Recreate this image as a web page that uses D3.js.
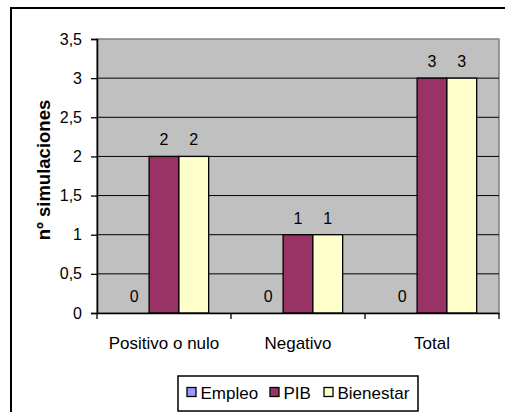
<!DOCTYPE html>
<html><head><meta charset="utf-8">
<script src="https://cdn.jsdelivr.net/npm/d3@7"></script>
<style>html,body{margin:0;padding:0;background:#fff;}svg{display:block;font-family:"Liberation Sans",Arial,sans-serif;}</style>
</head><body>
<svg id="c" width="505" height="412"></svg>
<script>
const categories = ["Positivo o nulo", "Negativo", "Total"];
const seriesNames = ["Empleo", "PIB", "Bienestar"];
const empleo = [0, 0, 0];
const pib = [2, 1, 3];
const bienestar = [2, 1, 3];
const yTicks = [0, 0.5, 1, 1.5, 2, 2.5, 3, 3.5];
const colors = ["#9999FF", "#993366", "#FFFFCC"];
const seriesValues = [empleo, pib, bienestar];

const svg = d3.select("#c");
// outer chart border
svg.append("rect").attr("x", 11).attr("y", 8).attr("width", 520).attr("height", 430)
  .attr("fill", "#fff").attr("stroke", "#000").attr("stroke-width", 2);

const L = 97, R = 499, T = 39, B = 313;
const x0 = d3.scaleBand().domain(categories).range([L, R]).padding(0);
const bw = x0.bandwidth();
const barW = bw / 4.5;
const gap = (bw - 3 * barW) / 2;
const x1 = d3.scaleBand().domain(seriesNames).range([gap, gap + 3 * barW]).padding(0);
const y = d3.scaleLinear().domain([0, 3.5]).range([B, T]);

// plot background
svg.append("rect").attr("x", L).attr("y", T).attr("width", R - L).attr("height", B - T)
  .attr("fill", "#C0C0C0").attr("stroke", "#808080").attr("stroke-width", 1.5);

// gridlines
svg.append("g").selectAll("line").data(yTicks.filter(v => v > 0 && v < 3.5)).join("line")
  .attr("x1", L).attr("x2", R).attr("y1", d => y(d)).attr("y2", d => y(d))
  .attr("stroke", "#000").attr("stroke-width", 1);

// bars
const groups = svg.append("g").selectAll("g").data(categories).join("g")
  .attr("transform", d => `translate(${x0(d)},0)`);
groups.each(function(cat, ci) {
  const g = d3.select(this);
  seriesNames.forEach((s, si) => {
    const v = seriesValues[si][ci];
    if (v > 0) {
      g.append("rect").attr("x", x1(s)).attr("y", y(v)).attr("width", x1.bandwidth())
        .attr("height", y(0) - y(v)).attr("fill", colors[si]).attr("stroke", "#000").attr("stroke-width", 1.3);
    }
    g.append("text").attr("x", x1(s) + x1.bandwidth() / 2).attr("y", y(v) - 11)
      .attr("text-anchor", "middle").attr("font-size", 16).attr("fill", "#000").text(v);
  });
});

// y axis
const yAxis = d3.axisLeft(y).tickValues(yTicks).tickSize(6).tickPadding(9)
  .tickFormat(d => String(d).replace(".", ","));
const ya = svg.append("g").attr("transform", `translate(${L},0)`).call(yAxis);
ya.select(".domain").attr("stroke", "#000").attr("stroke-width", 1.5);
ya.selectAll(".tick line").attr("stroke", "#000").attr("stroke-width", 1.3);
ya.selectAll("text").attr("font-size", 16).attr("fill", "#000").attr("font-family", "Liberation Sans, Arial, sans-serif");

// x axis
const xa = svg.append("g").attr("transform", `translate(0,${B})`)
  .call(d3.axisBottom(x0).tickSize(0).tickPadding(24));
xa.select(".domain").attr("stroke", "#000").attr("stroke-width", 1.5);
xa.selectAll("text").attr("font-size", 17).attr("fill", "#000").attr("font-family", "Liberation Sans, Arial, sans-serif");
svg.append("g").selectAll("line").data(d3.range(categories.length + 1)).join("line")
  .attr("x1", i => L + i * bw).attr("x2", i => L + i * bw).attr("y1", B).attr("y2", B + 6)
  .attr("stroke", "#000").attr("stroke-width", 1.3);

// y title
svg.append("text").attr("transform", `translate(50,170) rotate(-90)`)
  .attr("text-anchor", "middle").attr("font-size", 18.5).attr("font-weight", "bold").text("nº simulaciones");

// legend
const lg = svg.append("g");
lg.append("rect").attr("x", 178).attr("y", 376).attr("width", 240).attr("height", 35)
  .attr("fill", "#fff").attr("stroke", "#000").attr("stroke-width", 1.5);
const legX = [187, 270, 324];
seriesNames.forEach((s, i) => {
  lg.append("rect").attr("x", legX[i]).attr("y", 387.5).attr("width", 9).attr("height", 9)
    .attr("fill", colors[i]).attr("stroke", "#000").attr("stroke-width", 1.3);
  lg.append("text").attr("x", legX[i] + 13.5).attr("y", 399).attr("font-size", 17).text(s);
});
</script>
</body></html>
